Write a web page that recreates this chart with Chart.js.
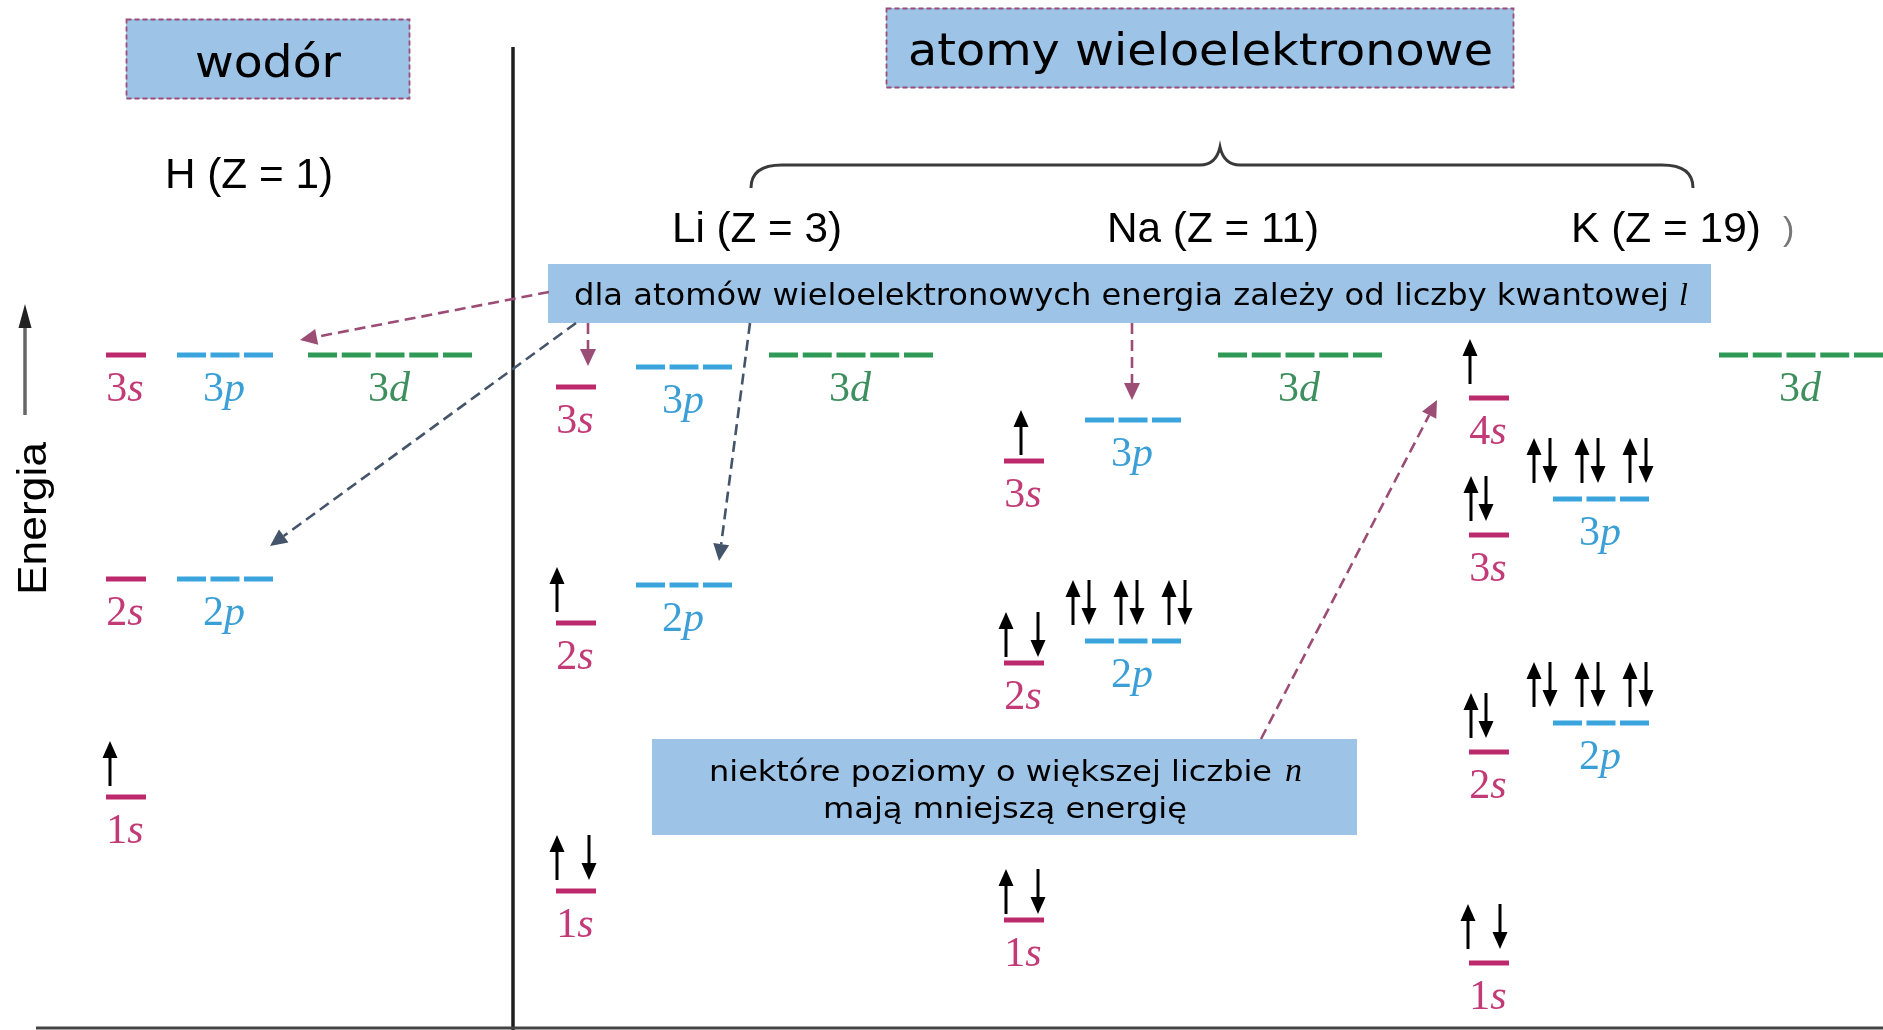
<!DOCTYPE html>
<html><head><meta charset="utf-8">
<script src="https://cdn.jsdelivr.net/npm/chart.js@4/dist/chart.umd.min.js"></script>
<style>html,body{margin:0;padding:0;background:#fff;}canvas{display:block;}</style>
</head><body>
<canvas id="c" width="1883" height="1030"></canvas>
<script>
// ---------- DATA (energy in arbitrary units) ----------
const atomNames = ['H (Z = 1)', 'Li (Z = 3)', 'Na (Z = 11)', 'K (Z = 19)'];
const groupTitles = ['wodór', 'atomy wieloelektronowe'];
const axisTitle = 'Energia';
const note1 = 'dla atomów wieloelektronowych energia zależy od liczby kwantowej';
const note1Var = 'l';
const note2a = 'niektóre poziomy o większej liczbie';
const note2Var = 'n';
const note2b = 'mają mniejszą energię';

const H_levels  = ['1s', '2s', '2p', '3s', '3p', '3d'];
const H_energy  = [23.3, 45.1, 45.1, 67.5, 67.5, 67.5];
const H_elec    = [1, 0, 0, 0, 0, 0];

const Li_levels = ['1s', '2s', '2p', '3s', '3p', '3d'];
const Li_energy = [13.9, 40.7, 44.5, 64.3, 66.3, 67.5];
const Li_elec   = [2, 1, 0, 0, 0, 0];

const Na_levels = ['1s', '2s', '2p', '3s', '3p', '3d'];
const Na_energy = [11.0, 36.7, 38.9, 56.9, 61.0, 67.5];
const Na_elec   = [2, 2, 6, 1, 0, 0];

const K_levels  = ['1s', '2s', '2p', '3s', '3p', '4s', '3d'];
const K_energy  = [6.7, 27.8, 30.7, 49.5, 53.1, 63.2, 67.5];
const K_elec    = [2, 2, 6, 2, 6, 1, 0];

// ---------- LAYOUT / STYLE ----------
const atomsData = [
  {levels: H_levels,  energy: H_energy,  elec: H_elec},
  {levels: Li_levels, energy: Li_energy, elec: Li_elec},
  {levels: Na_levels, energy: Na_energy, elec: Na_elec},
  {levels: K_levels,  energy: K_energy,  elec: K_elec}
];
const layout = [
  {s: 126,  p: 225,  d: 390,  single: -16, pair: [-18, 14], sGap: 11, pShift: 0},
  {s: 576,  p: 684,  d: 851,  single: -19, pair: [-19, 13], sGap: 11, pShift: 0},
  {s: 1024, p: 1133, d: 1300, single: -3,  pair: [-18, 14], sGap: 6,  pShift: -4},
  {s: 1489, p: 1601, d: 1801, single: -19, pair: [-18, -3], sGap: 14, pShift: -11, over: {'1s': [-21, 11]}}
];
const orbW = {s: 40, p: 96, d: 164};
const orbDash = {s: [], p: [29, 4.5], d: [29, 4.75]};
const lineCol = {s: '#bd2a6b', p: '#3aa5dd', d: '#2f9a55'};
const labCol = {s: '#c23a76', p: '#3a9fd6', d: '#3d8f5d'};
const BOX = '#9dc3e6', MAROON = '#9b4d75', SLATE = '#44546a';

// datasets: one per energy level, drawn by Chart.js through its scales
const datasets = [];
atomsData.forEach((a, ai) => {
  a.levels.forEach((lv, li) => {
    const t = lv.slice(-1);
    const cx = layout[ai][t];
    datasets.push({
      data: [{x: cx - orbW[t] / 2, y: a.energy[li]}, {x: cx + orbW[t] / 2, y: a.energy[li]}],
      showLine: true, pointRadius: 0, borderWidth: 5,
      borderColor: lineCol[t], borderDash: orbDash[t], borderCapStyle: 'butt',
      fill: false, tension: 0, clip: false,
      _atom: ai, _level: lv, _elec: a.elec[li]
    });
  });
});

function fitText(ctx, text, font, x, base, width, color) {
  ctx.save();
  ctx.font = font; ctx.fillStyle = color || '#000';
  ctx.textAlign = 'left'; ctx.textBaseline = 'alphabetic';
  const w = ctx.measureText(text).width;
  ctx.translate(x, base); ctx.scale(width / w, 1);
  ctx.fillText(text, 0, 0);
  ctx.restore();
}
function spin(ctx, x, yb, up) {
  const len = 45, hl = 17, hw = 7.5;
  ctx.save(); ctx.strokeStyle = '#000'; ctx.fillStyle = '#000'; ctx.lineWidth = 3;
  ctx.beginPath();
  if (up) {
    ctx.moveTo(x, yb); ctx.lineTo(x, yb - len + hl - 1); ctx.stroke();
    ctx.beginPath(); ctx.moveTo(x, yb - len); ctx.lineTo(x - hw, yb - len + hl); ctx.lineTo(x + hw, yb - len + hl); ctx.closePath(); ctx.fill();
  } else {
    ctx.moveTo(x, yb - len); ctx.lineTo(x, yb - hl + 1); ctx.stroke();
    ctx.beginPath(); ctx.moveTo(x, yb); ctx.lineTo(x - hw, yb - hl); ctx.lineTo(x + hw, yb - hl); ctx.closePath(); ctx.fill();
  }
  ctx.restore();
}
function dashArrow(ctx, x0, y0, x1, y1, col) {
  const ang = Math.atan2(y1 - y0, x1 - x0), hl = 17, hw = 8;
  const ex = x1 - Math.cos(ang) * hl, ey = y1 - Math.sin(ang) * hl;
  ctx.save(); ctx.strokeStyle = col; ctx.fillStyle = col; ctx.lineWidth = 2.6;
  ctx.setLineDash([11, 6]);
  ctx.beginPath(); ctx.moveTo(x0, y0); ctx.lineTo(ex, ey); ctx.stroke();
  ctx.setLineDash([]);
  ctx.beginPath(); ctx.moveTo(x1, y1);
  ctx.lineTo(ex + Math.sin(ang) * hw, ey - Math.cos(ang) * hw);
  ctx.lineTo(ex - Math.sin(ang) * hw, ey + Math.cos(ang) * hw);
  ctx.closePath(); ctx.fill(); ctx.restore();
}
function dashedBox(ctx, x0, y0, x1, y1) {
  ctx.save(); ctx.fillStyle = BOX; ctx.fillRect(x0, y0, x1 - x0, y1 - y0);
  ctx.strokeStyle = MAROON; ctx.lineWidth = 1.8; ctx.setLineDash([5, 3]);
  ctx.strokeRect(x0 + 0.5, y0 + 0.5, x1 - x0 - 1, y1 - y0 - 1); ctx.restore();
}

const bgPlugin = {
  id: 'bg',
  beforeDraw(chart) { const c = chart.ctx; c.save(); c.fillStyle = '#fff'; c.fillRect(0, 0, chart.width, chart.height); c.restore(); }
};

const annoPlugin = {
  id: 'anno',
  afterDatasetsDraw(chart) {
    const ctx = chart.ctx, xs = chart.scales.x, ys = chart.scales.y;
    const X = v => xs.getPixelForValue(v), Y = v => ys.getPixelForValue(v);
    const lvl = (ai, name) => { const a = atomsData[ai]; return Y(a.energy[a.levels.indexOf(name)]); };

    // frame lines
    ctx.save();
    ctx.strokeStyle = '#1e1e1e'; ctx.lineWidth = 3.5;
    ctx.beginPath(); ctx.moveTo(513, 47); ctx.lineTo(513, 1030); ctx.stroke();
    ctx.strokeStyle = '#444'; ctx.lineWidth = 3;
    ctx.beginPath(); ctx.moveTo(36, 1028); ctx.lineTo(1883, 1028); ctx.stroke();
    // energy arrow
    ctx.strokeStyle = '#666'; ctx.lineWidth = 3.5;
    ctx.beginPath(); ctx.moveTo(25, 415); ctx.lineTo(25, 322); ctx.stroke();
    ctx.fillStyle = '#222'; ctx.beginPath(); ctx.moveTo(25, 304); ctx.lineTo(18.5, 328); ctx.lineTo(31.5, 328); ctx.closePath(); ctx.fill();
    ctx.restore();

    // Energia
    ctx.save(); ctx.translate(46, 595); ctx.rotate(-Math.PI / 2);
    fitText(ctx, axisTitle, '41px "Liberation Sans"', 0, 0, 153, '#000');
    ctx.restore();

    // level labels and spins
    chart.data.datasets.forEach(ds => {
      const ai = ds._atom, lv = ds._level, t = lv.slice(-1), L = layout[ai];
      const cx = X(L[t]), y = Y(ds.data[0].y);
      ctx.save();
      ctx.fillStyle = labCol[t]; ctx.textBaseline = 'alphabetic';
      ctx.font = '42px "Liberation Serif"'; const w1 = ctx.measureText(lv[0]).width;
      ctx.font = 'italic 42px "Liberation Serif"'; const w2 = ctx.measureText(t).width;
      const x0 = cx - (w1 + w2) / 2 - 1;
      ctx.font = '42px "Liberation Serif"'; ctx.fillText(lv[0], x0, y + 46);
      ctx.font = 'italic 42px "Liberation Serif"'; ctx.fillText(t, x0 + w1, y + 46);
      ctx.restore();
      const n = ds._elec;
      if (!n) return;
      if (t === 's') {
        const yb = y - L.sGap;
        if (n === 1) spin(ctx, cx + L.single, yb, true);
        else { const pr = (L.over && L.over[lv]) || L.pair; spin(ctx, cx + pr[0], yb, true); spin(ctx, cx + pr[1], yb, false); }
      } else if (t === 'p') {
        const yb = y - 16;
        for (let i = 0; i < 3; i++) {
          const pc = cx + L.pShift + (i - 1) * 48;
          if (n > i) spin(ctx, pc - 8, yb, true);
          if (n > i + 3) spin(ctx, pc + 8, yb, false);
        }
      }
    });

    // title boxes
    dashedBox(ctx, 126, 19, 410, 99);
    fitText(ctx, groupTitles[0], '44px "DejaVu Sans"', 195, 77, 146);
    dashedBox(ctx, 886, 8, 1514, 88);
    fitText(ctx, groupTitles[1], '44px "DejaVu Sans"', 908, 65, 585);

    // atom labels
    fitText(ctx, atomNames[0], '43px "Liberation Sans"', 165, 188, 168);
    fitText(ctx, atomNames[1], '43px "Liberation Sans"', 672, 242, 170);
    fitText(ctx, atomNames[2], '43px "Liberation Sans"', 1107, 242, 212);
    fitText(ctx, atomNames[3], '43px "Liberation Sans"', 1571, 242, 190);
    ctx.save(); ctx.fillStyle = '#777'; ctx.font = '34px "Liberation Sans"'; ctx.fillText(')', 1783, 240); ctx.restore();

    // brace
    ctx.save(); ctx.strokeStyle = '#3a3a3a'; ctx.lineWidth = 3;
    ctx.beginPath();
    ctx.moveTo(751, 188); ctx.quadraticCurveTo(751, 165, 782, 165);
    ctx.lineTo(1200, 165); ctx.quadraticCurveTo(1216, 165, 1220, 147);
    ctx.quadraticCurveTo(1224, 165, 1240, 165);
    ctx.lineTo(1662, 165); ctx.quadraticCurveTo(1693, 165, 1693, 188);
    ctx.stroke(); ctx.restore();

    // note box 1
    ctx.save(); ctx.fillStyle = BOX; ctx.fillRect(548, 264, 1163, 59); ctx.restore();
    fitText(ctx, note1, '30px "DejaVu Sans"', 574, 305, 1095);
    ctx.save(); ctx.fillStyle = '#000'; ctx.font = 'italic 32px "Liberation Serif"'; ctx.fillText(note1Var, 1679, 305); ctx.restore();

    // note box 2
    ctx.save(); ctx.fillStyle = BOX; ctx.fillRect(652, 739, 705, 96); ctx.restore();
    fitText(ctx, note2a, '29px "DejaVu Sans"', 709, 781, 563);
    ctx.save(); ctx.fillStyle = '#000'; ctx.font = 'italic 34px "Liberation Serif"'; ctx.fillText(note2Var, 1285, 781); ctx.restore();
    fitText(ctx, note2b, '29px "DejaVu Sans"', 823, 818, 364);

    // pointer arrows (targets taken from the level positions on the scales)
    dashArrow(ctx, 549, 292, X(layout[0].d - orbW.d / 2) - 8, lvl(0, '3d') - 15, MAROON);
    dashArrow(ctx, 576, 323, X(layout[0].p + orbW.p / 2) - 3, lvl(0, '2p') - 33, SLATE);
    dashArrow(ctx, 588, 323, X(layout[1].s) + 12, lvl(1, '3s') - 21, MAROON);
    dashArrow(ctx, 750, 323, X(layout[1].p + orbW.p / 2) - 13, lvl(1, '2p') - 24, SLATE);
    dashArrow(ctx, 1132, 323, X(layout[2].p) - 1, lvl(2, '3p') - 20, MAROON);
    dashArrow(ctx, 1261, 739, X(layout[3].s - orbW.s / 2) - 32, lvl(3, '4s') + 2, MAROON);
  }
};

new Chart(document.getElementById('c'), {
  type: 'scatter',
  data: {datasets},
  options: {
    responsive: false, animation: false, events: [],
    layout: {padding: 0},
    plugins: {legend: {display: false}, tooltip: {enabled: false}},
    scales: {
      x: {type: 'linear', min: 0, max: 1883, display: false},
      y: {type: 'linear', min: 0, max: 103, display: false}
    }
  },
  plugins: [bgPlugin, annoPlugin]
});
</script>
</body></html>
